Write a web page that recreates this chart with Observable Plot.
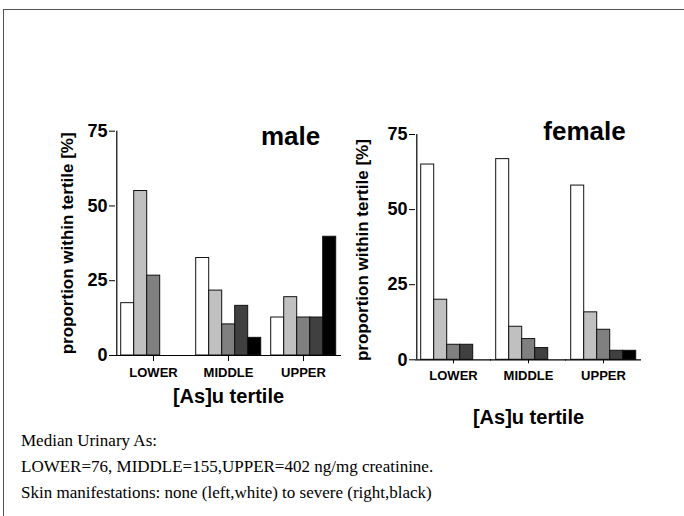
<!DOCTYPE html>
<html><head><meta charset="utf-8">
<script src="https://cdn.jsdelivr.net/npm/d3@7"></script>
<script src="https://cdn.jsdelivr.net/npm/@observablehq/plot@0.6"></script>
<style>
body{margin:0;background:#fff;}
#wrap{position:relative;width:684px;height:516px;overflow:hidden;background:#fff;}
#frame{position:absolute;left:3px;top:9px;right:-4px;bottom:-4px;border-top:1px solid #555;border-left:1px solid #555;}
.panel{position:absolute;left:0;top:0;width:684px;height:516px;}
.panel svg{position:absolute;overflow:visible;}
.panel text{font-weight:bold;}
.panel g[aria-label="fx-axis label"] text{font-size:20px;}
#caption{position:absolute;left:21px;top:428px;font-family:"Liberation Serif","Times New Roman",serif;font-size:17px;line-height:26px;color:#000;white-space:nowrap;}
</style></head>
<body><div id="wrap"><div id="frame"></div>
<div id="male" class="panel"></div><div id="female" class="panel"></div>
<div id="caption">Median Urinary As:<br>LOWER=76, MIDDLE=155,UPPER=402 ng/mg creatinine.<br>Skin manifestations: none (left,white) to severe (right,black)</div></div>
<script>
const tertiles = ["LOWER", "MIDDLE", "UPPER"];
const levels = ["none", "mild", "moderate", "marked", "severe"];
const shades = ["#ffffff", "#c0c0c0", "#808080", "#404040", "#000000"];
const yTicks = [0, 25, 50, 75];
const yLabel = "proportion within tertile [%]";
const xLabel = "[As]u tertile";
const maleLower = [17.5, 55, 26.7, 0, 0];
const maleMiddle = [32.6, 21.7, 10.4, 16.6, 5.9];
const maleUpper = [12.7, 19.5, 12.7, 12.7, 39.7];
const femaleLower = [65, 20, 5, 5, 0];
const femaleMiddle = [66.8, 11, 6.9, 3.9, 0];
const femaleUpper = [58, 15.8, 10, 3, 3];

function panel(el, left, o, title, rows) {
  const data = rows.flatMap((vals, i) => vals.map((v, j) => ({tertile: tertiles[i], level: levels[j], value: v})));
  const W = 345, H = 440;
  const svg = Plot.plot({
    width: W, height: H,
    marginLeft: 114.3, marginRight: W - 342.5, marginTop: o.top, marginBottom: H - o.zero,
    style: {background: "transparent", fontFamily: "'Liberation Sans', Arial, sans-serif", overflow: "visible"},
    fx: {domain: tertiles, paddingInner: 0.095, paddingOuter: 0.053},
    x: {domain: levels, axis: null, padding: 0},
    y: {domain: [0, 75]},
    color: {domain: levels, range: shades},
    marks: [
      Plot.barY(data, {fx: "tertile", x: "level", y: "value", fill: "level", stroke: "#111", strokeWidth: 1}),
      Plot.ruleY([0], {insetLeft: -4, insetRight: -4, stroke: "#000", strokeWidth: 1.2}),
      Plot.ruleX([levels[0]], {fx: ["LOWER"], x: d => d, y1: 0, y2: 75, dx: -10.9, stroke: "#000", strokeWidth: 1.2}),
      Plot.axisFx({anchor: "bottom", tickSize: o.tickSize, tickPadding: o.tickPad, fontSize: 13,
        label: xLabel, labelAnchor: "center", labelOffset: o.xlab}),
      Plot.axisY({ticks: yTicks, tickSize: 6, tickPadding: 2, fontSize: 18, dx: -4, label: null}),
      Plot.text([yLabel], {fx: ["LOWER"], text: d => d, frameAnchor: "left", textAnchor: "middle",
        lineAnchor: "middle", rotate: -90, dx: o.ylx, dy: o.yly, fontSize: 17, fontWeight: "bold"}),
      Plot.text([title], {fx: ["UPPER"], text: d => d, frameAnchor: "top", lineAnchor: "top",
        dx: o.tdx, dy: o.tdy, fontSize: 26, fontWeight: "bold"})
    ]
  });
  svg.style.left = left + "px";
  svg.style.top = "0px";
  document.getElementById(el).appendChild(svg);
}

panel("male", 0, {top: 130.7, zero: 355, tickSize: 6, tickPad: 6, xlab: 47, ylx: -52, yly: 0, tdx: -13, tdy: -5}, "male",
  [maleLower, maleMiddle, maleUpper]);
panel("female", 300, {top: 134, zero: 359.3, tickSize: 4, tickPad: 6.5, xlab: 64, ylx: -57, yly: 3, tdx: -19, tdy: -13}, "female",
  [femaleLower, femaleMiddle, femaleUpper]);
</script>
</body></html>
